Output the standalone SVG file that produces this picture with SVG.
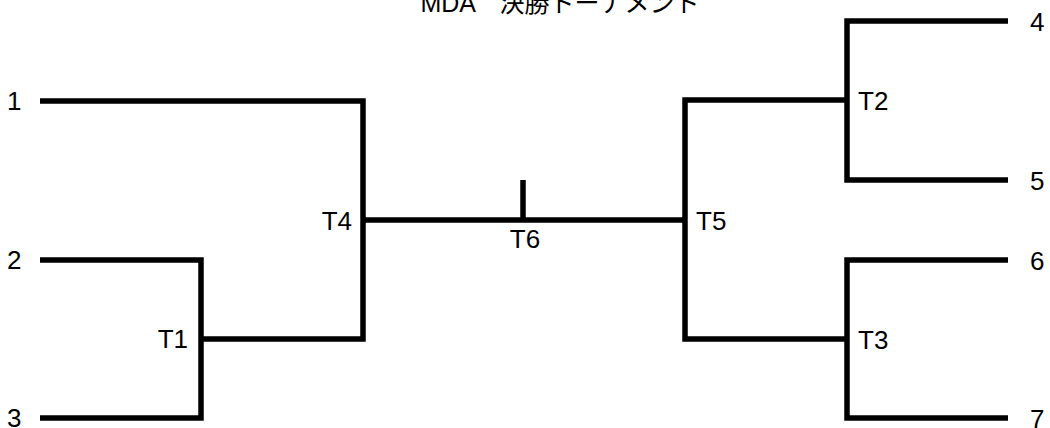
<svg xmlns="http://www.w3.org/2000/svg" width="1050" height="428" viewBox="0 0 1050 428">
<style>
.ln{fill:none;stroke:#000;stroke-width:5.5;stroke-linejoin:miter;stroke-linecap:butt}
.t{font-family:"Liberation Sans","Noto Sans CJK JP",sans-serif;font-size:26px;fill:#000}
.title{font-family:"Liberation Sans","Noto Sans CJK JP",sans-serif;font-size:25px;fill:#000}
</style>
<rect width="1050" height="428" fill="#fff"/>
<g id="title"><text class="title" x="560" y="12" text-anchor="middle">MDA　決勝トーナメント</text></g>
<g id="connectors">
<path class="ln" d="M40,101 H363 V339 H201"/>
<path class="ln" d="M40,260 H201 V418 H40"/>
<path class="ln" d="M363,220 H685"/>
<path class="ln" d="M523,180 V220"/>
<path class="ln" d="M1008,21 H847 V180 H1008"/>
<path class="ln" d="M847,100 H685 V339 H847"/>
<path class="ln" d="M1008,260 H847 V418 H1008"/>
</g>
<g id="team1"><text class="t" x="7" y="110">1</text></g>
<g id="team2"><text class="t" x="7" y="269">2</text></g>
<g id="team3"><text class="t" x="7" y="427">3</text></g>
<g id="team4"><text class="t" x="1030" y="31">4</text></g>
<g id="team5"><text class="t" x="1030" y="190">5</text></g>
<g id="team6"><text class="t" x="1030" y="270">6</text></g>
<g id="team7"><text class="t" x="1030" y="428">7</text></g>
<g id="T1"><text class="t" x="188" y="348" text-anchor="end">T1</text></g>
<g id="T2"><text class="t" x="858" y="110">T2</text></g>
<g id="T3"><text class="t" x="858" y="349">T3</text></g>
<g id="T4"><text class="t" x="352" y="230" text-anchor="end">T4</text></g>
<g id="T5"><text class="t" x="696" y="230">T5</text></g>
<g id="T6"><text class="t" x="525" y="248" text-anchor="middle">T6</text></g>
</svg>
